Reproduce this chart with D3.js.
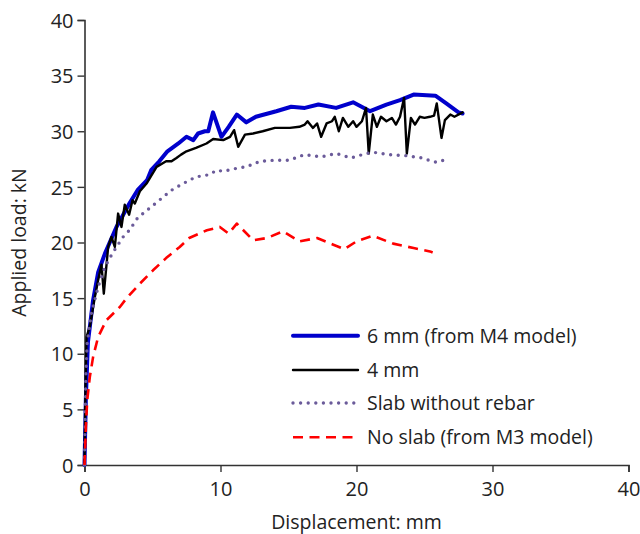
<!DOCTYPE html>
<html>
<head>
<meta charset="utf-8">
<script src="https://cdn.jsdelivr.net/npm/d3@7"></script>
<style>
  html, body { margin: 0; padding: 0; background: #fff; }
  svg { display: block; font-family: "Open Sans", "Noto Sans", sans-serif; }
</style>
</head>
<body>
<svg id="chart" width="640" height="534"></svg>
<script>
// ---- data ----
const xTicks = [0, 10, 20, 30, 40];
const yTicks = [0, 5, 10, 15, 20, 25, 30, 35, 40];
const seriesNames = ["6 mm (from M4 model)", "4 mm", "Slab without rebar", "No slab (from M3 model)"];

const sixMm = [[0,0],[0.1,6],[0.25,11],[0.63,14.8],[1.0,17.3],[1.5,19.0],[2.35,21.4],[3.3,23.5],[3.9,24.7],[4.6,25.6],[4.9,26.5],[5.5,27.3],[6.1,28.2],[6.9,28.9],[7.5,29.5],[8.0,29.2],[8.35,29.8],[8.85,30.0],[9.1,30.0],[9.45,31.7],[10.07,29.5],[10.6,30.4],[11.2,31.5],[11.9,30.8],[12.6,31.3],[14.1,31.8],[15.2,32.2],[16.2,32.1],[17.2,32.4],[18.5,32.1],[19.75,32.6],[21.0,31.8],[22.2,32.4],[23.2,32.8],[24.2,33.3],[25.8,33.2],[26.6,32.5],[27.5,31.7],[27.8,31.6]];

const fourMm = [[0,0],[0.05,5],[0.1,9],[0.15,11.5],[0.4,12.5],[0.76,15.1],[1.0,16.6],[1.25,18.0],[1.42,15.4],[1.74,19.6],[1.98,20.5],[2.23,19.6],[2.47,22.6],[2.72,21.4],[2.96,23.4],[3.28,22.5],[3.53,23.8],[3.7,23.5],[4.07,24.6],[4.56,25.3],[5.3,26.8],[6.0,27.3],[6.4,27.3],[6.76,27.6],[7.1,27.9],[7.5,28.2],[8.2,28.5],[8.97,28.9],[9.46,29.3],[10.2,29.2],[10.7,29.5],[11.0,30.1],[11.3,28.6],[11.8,29.7],[12.4,29.8],[13.1,30.0],[14.0,30.3],[15.1,30.3],[15.8,30.4],[16.2,30.6],[16.4,30.9],[16.8,30.3],[17.1,30.7],[17.4,29.5],[17.8,30.7],[18.2,30.9],[18.4,31.3],[18.7,30.0],[19.0,31.2],[19.4,30.4],[19.75,30.9],[20.0,30.4],[20.4,30.9],[20.7,32.1],[20.9,28.0],[21.2,31.5],[21.5,30.4],[21.8,31.3],[22.2,30.9],[22.6,31.2],[22.9,30.6],[23.2,31.3],[23.5,33.0],[23.7,28.0],[24.0,31.2],[24.3,30.6],[24.65,31.3],[25.0,31.2],[25.4,31.3],[25.7,31.4],[25.9,32.5],[26.25,29.4],[26.5,31.0],[26.9,31.5],[27.2,31.3],[27.8,31.7]];

const noRebar = [[0,0],[0.1,8],[0.2,11],[0.5,13.6],[1.0,16.0],[1.5,17.8],[2.0,18.9],[2.35,19.6],[2.84,20.5],[3.3,21.1],[3.9,22.2],[4.8,23.1],[5.5,23.8],[6.4,24.7],[7.25,25.3],[8.2,25.9],[9.2,26.1],[9.7,26.5],[10.2,26.4],[11.3,26.7],[11.9,26.8],[12.9,27.3],[14.0,27.4],[15.1,27.4],[15.7,27.7],[16.2,27.9],[17.4,27.7],[18.5,28.0],[19.6,27.6],[20.7,28.0],[21.3,28.1],[22.4,27.9],[23.7,27.8],[24.8,27.6],[25.3,27.4],[25.9,27.2],[26.4,27.4]];

const noSlab = [[0,0],[0.05,1.5],[0.1,3.4],[0.2,5.8],[0.39,7.9],[0.63,9.7],[1.0,11.5],[1.6,13.0],[2.6,14.2],[3.1,15.0],[4.07,16.3],[5.04,17.5],[6.0,18.6],[7.0,19.6],[7.7,20.4],[9.0,21.1],[9.95,21.4],[10.6,20.8],[11.2,21.7],[12.4,20.2],[13.4,20.4],[14.6,21.0],[15.8,20.1],[17.1,20.4],[18.3,19.8],[19.1,19.4],[20.0,20.1],[21.2,20.6],[22.7,19.9],[24.2,19.5],[25.4,19.2],[25.6,19.1]];

// ---- styles ----
const styles = [
  { data: sixMm,   color: "#0000cc", width: 4.0, dash: null,      cap: "round" },
  { data: fourMm,  color: "#000000", width: 2.4, dash: null,      cap: "round" },
  { data: noRebar, color: "#6b5b9a", width: 3.4, dash: "0 7.6",   cap: "round" },
  { data: noSlab,  color: "#ff0000", width: 2.6, dash: "10 6.5",  cap: "butt" }
];

const svg = d3.select("#chart");
const x = d3.scaleLinear().domain([0, 40]).range([84.5, 628.5]);
const y = d3.scaleLinear().domain([0, 40]).range([465, 20]);

const axisColor = "#333";
const textColor = "#222";
const fontFam = "'Open Sans', 'Noto Sans', sans-serif";

// axes
const gx = svg.append("g").attr("transform", `translate(0,${y(0)})`)
  .call(d3.axisBottom(x).tickValues(xTicks).tickSize(7).tickPadding(10).tickFormat(d3.format("d")));
const gy = svg.append("g").attr("transform", `translate(${x(0)},0)`)
  .call(d3.axisLeft(y).tickValues(yTicks).tickSize(7).tickPadding(4).tickFormat(d3.format("d")));
[gx, gy].forEach(g => {
  g.select(".domain").attr("stroke", axisColor).attr("stroke-width", 1.6);
  g.selectAll(".tick line").attr("stroke", axisColor).attr("stroke-width", 1.4);
  g.selectAll(".tick text").attr("fill", textColor).style("font-size", "20px")
    .style("font-family", fontFam);
});
gy.selectAll(".tick text").attr("dy", "0.36em");

// axis titles
svg.append("text").attr("x", x(20)).attr("y", 529).attr("text-anchor", "middle")
  .attr("fill", textColor).style("font-size", "19.5px").text("Displacement: mm");
svg.append("text").attr("transform", `translate(26,${(y(0) + y(40)) / 2}) rotate(-90)`)
  .attr("text-anchor", "middle").attr("fill", textColor).style("font-size", "19.5px")
  .text("Applied load: kN");

// lines
const line = d3.line().x(d => x(d[0])).y(d => y(d[1]));
styles.forEach(s => {
  svg.append("path").datum(s.data).attr("d", line)
    .attr("fill", "none").attr("stroke", s.color).attr("stroke-width", s.width)
    .attr("stroke-linejoin", "round").attr("stroke-linecap", s.cap)
    .attr("stroke-dasharray", s.dash);
});

// legend
const legY = [335.7, 370, 403, 437.3];
const lg = svg.append("g");
styles.forEach((s, i) => {
  lg.append("line").attr("x1", 293).attr("x2", 358).attr("y1", legY[i]).attr("y2", legY[i])
    .attr("stroke", s.color).attr("stroke-width", s.width)
    .attr("stroke-linecap", s.cap).attr("stroke-dasharray", s.dash);
  lg.append("text").attr("x", 367).attr("y", legY[i]).attr("dy", "0.35em")
    .attr("fill", textColor).style("font-size", "19.5px").text(seriesNames[i]);
});
</script>
</body>
</html>
